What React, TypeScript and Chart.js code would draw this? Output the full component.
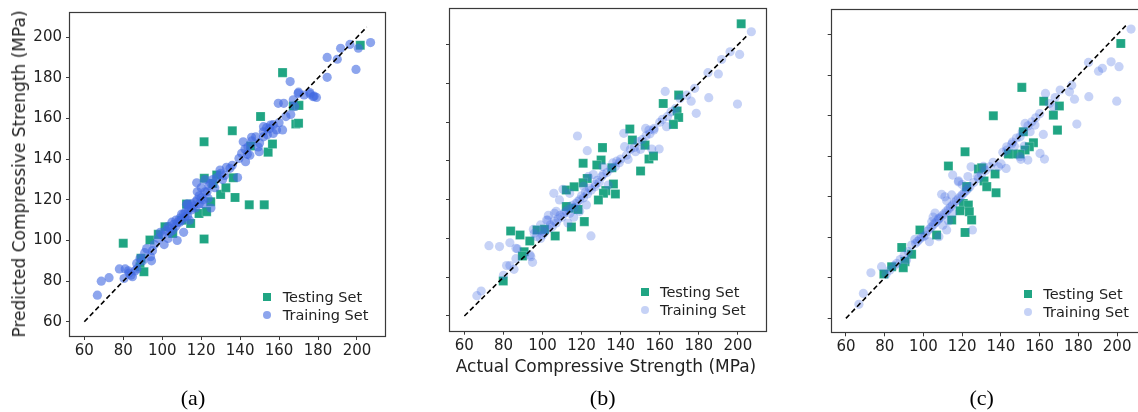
import React, { useEffect, useRef } from 'react';
import { Chart, registerables } from 'chart.js';

Chart.register(...registerables);

// ---------- data ----------
const tickValues = [60, 80, 100, 120, 140, 160, 180, 200];
const diagonalRange = [60, 205];
const legendLabels = ['Testing Set', 'Training Set'];
const captions = ['(a)', '(b)', '(c)'];
const yTitle = 'Predicted Compressive Strength (MPa)';
const xTitle = 'Actual Compressive Strength (MPa)';

// [actual, predicted]
const trainA: number[][] = [
  [66.7, 73.1], [68.7, 80], [72.7, 81.7], [78, 86], [81, 86], [80.4, 81.3], [82.6, 85.1], [84, 83], [84.7, 82.2], [86, 85],
  [86.9, 88.7], [88.6, 91.2], [91, 94], [92, 96], [94, 92], [94.5, 90], [96, 98], [100, 102.7], [101, 98], [103, 101],
  [104, 104], [105.5, 105], [107.7, 100], [107, 107], [109, 109], [110, 113], [111.7, 111.7], [113.4, 115], [112.5, 117.8], [115, 118],
  [117, 119], [117.7, 128.4], [119, 122], [120, 126], [122, 130], [123.6, 120.7], [125, 116], [123, 124], [126, 130], [129.7, 134.7],
  [131, 130], [134.8, 135.5], [138.7, 131], [139.4, 140.4], [140.8, 142.9], [142.5, 145], [142.8, 138.8], [143.7, 142.4], [141.6, 148.6], [145.9, 150.8],
  [149.3, 146], [149.8, 143.7], [151.9, 153.5], [153.6, 155.5], [155.6, 156.8], [157, 152.7], [158.7, 154.4], [160, 158], [161.8, 154.4], [163.5, 161],
  [159.6, 167.5], [162.4, 167.5], [165.7, 178.2], [167.3, 169.2], [169.8, 172.4], [172.8, 171.6], [175.8, 172.8], [177.5, 170.8], [179.2, 170.4], [184.7, 180.3],
  [184.7, 190.1], [189.9, 189.2], [191.6, 194.6], [199.5, 184.2], [196.4, 196.5], [200.7, 194.6], [207, 197.4],
  [102, 105], [103, 107], [104, 106], [105, 109], [106, 108], [107, 110], [108, 109], [109, 111], [110, 110], [111, 113],
  [112, 114], [113, 112], [114, 116], [115, 115], [116, 117], [117, 116], [118, 120], [119, 118], [120, 121], [121, 120],
  [122, 124], [124, 127], [125, 128], [127, 126], [128, 131], [130, 133], [132, 132], [133, 136], [136, 137], [98, 101],
  [99, 104], [95, 95], [90, 90], [87, 86], [83, 84], [111, 104], [113, 118], [118, 124], [121, 118], [114, 110],
  [144, 146], [146, 149], [148, 151], [150, 148], [152, 151], [154, 152], [155, 155], [157, 157], [152, 156], [145, 142],
  [168, 166], [170, 173], [166, 162], [176, 172], [178, 171],
];
const testA: number[][] = [
  [80, 98.6], [88.6, 87.1], [89.1, 91.2], [90.6, 84.6], [93.7, 100.2], [98, 103], [101.4, 106.8], [105.4, 103.5], [112.5, 117.9], [114.6, 108.4],
  [118.9, 113.3], [121.5, 100.7], [121.5, 148.6], [121.6, 130.6], [122.8, 114.2], [124.9, 119.1], [128, 132.2], [130, 122.7], [132.7, 126], [136.5, 130.9],
  [137.4, 121.2], [136, 154], [144.7, 117.6], [145.4, 146.5], [152.4, 117.6], [150.5, 161], [154.4, 143.5], [156.6, 147.5], [161.8, 182.6], [167.3, 166.2],
  [170.2, 166.5], [168.6, 157.3], [170, 157.7], [201.7, 196.1], [110, 110], [126, 128],
];

const trainB: number[][] = [
  [66.4, 70.5], [68.6, 72.9], [72.6, 96.3], [78, 95.8], [83.3, 97.8], [81.6, 86], [83.3, 86], [85.4, 84.1], [86.4, 89.6], [87.1, 94.7],
  [94, 90.6], [94.9, 87.7], [95.3, 104.7], [95.8, 102.7], [100, 101.8], [102.7, 109.5], [105.8, 123.3], [106.1, 113], [108.7, 119.9], [110.5, 125.4],
  [113.9, 123.3], [117.9, 152.9], [122.9, 145.3], [124.8, 101.3], [123.4, 131.9], [126.9, 126.7], [130.3, 131.9], [137.3, 137.1], [139.3, 139.1], [141.6, 154.3],
  [142, 147.4], [143.8, 140.8], [147.6, 144.8], [150.2, 146], [152.8, 156.8], [154.5, 156], [157.1, 156.8], [155.9, 146.2], [159.7, 146.2], [161.4, 161.5],
  [163.5, 157.7], [162.8, 175.9], [165.8, 165.4], [170.4, 172.3], [173.9, 174], [176.1, 170.9], [177.9, 177.5], [178.7, 164.6], [185.1, 172.7], [184.7, 185.6],
  [190, 184.9], [191.7, 192.4], [196, 196.4], [199.8, 169.4], [200.9, 195], [206.9, 206.7],
  [97, 101], [99, 100], [100, 104], [101, 103], [103, 105], [104, 107], [105, 106], [106, 109], [107, 108], [108, 110],
  [109, 112], [110, 111], [111, 113], [112, 114], [113, 115], [114, 113], [115, 117], [116, 116], [117, 118], [118, 119],
  [119, 120], [120, 122], [121, 121], [122, 124], [123, 123], [124, 126], [125, 125], [127, 128], [128, 130], [129, 129],
  [131, 133], [133, 134], [135, 136], [138, 140], [140, 141], [143, 143], [145, 146], [147, 147], [149, 150], [151, 151],
  [153, 153], [155, 154], [157, 156], [160, 160], [164, 163], [168, 167], [103, 112], [107, 114], [99, 107], [113, 108],
  [116, 111], [119, 114], [121, 127], [126, 133], [131, 137], [136, 139], [102.1, 109.5], [122.5, 117.3], [133.6, 127.6], [80, 81],
  [86.4, 94.9], [93.6, 91.5],
];
const testB: number[][] = [
  [201.7, 210.8], [169.7, 174], [161.8, 169.7], [168.9, 165.8], [169.7, 162.5], [167, 158.9], [144.7, 156.5], [146, 150.8], [152.5, 148.2], [150.2, 134.8],
  [154.5, 141], [156.8, 142.6], [130.7, 146.9], [130, 140.5], [127.8, 137.9], [120.8, 138.8], [135.5, 136.5], [122.9, 131], [120.8, 128.8], [136.3, 128.1],
  [137.3, 123], [132.4, 124.7], [131.2, 123.3], [128.6, 119.9], [112.2, 125], [116.2, 126.7], [114.8, 115.6], [118.2, 115], [112.2, 116.5], [121.4, 108.7],
  [114.8, 105.9], [97.2, 104.4], [101, 104.7], [106.5, 101.3], [93.5, 98.7], [88.5, 101.8], [83.7, 103.9], [90.6, 93.2], [89.7, 91], [79.9, 78.1],
];

const trainC: number[][] = [
  [66.7, 66.9], [69, 72.3], [72.9, 82.5], [78.4, 85.5], [80.7, 81.7], [82.7, 83.8], [86.2, 87.1], [91.3, 88.8], [92.2, 92.9], [93.9, 96.2],
  [95.6, 99], [100, 100.3], [103.1, 97.8], [104.3, 107.7], [108, 100.3], [109.4, 121.2], [111.1, 120], [112, 103.6], [115.1, 130.7], [114.6, 120.9],
  [118, 127.4], [124.6, 134.8], [125.3, 103.6], [128.4, 129.1], [134.4, 134.8], [138.7, 134.8], [140.1, 136.2], [142.7, 134], [143, 144.7], [145.6, 146],
  [149.9, 139.8], [150.3, 138.5], [153.9, 138.1], [149.9, 149.6], [152.5, 156.2], [155.1, 152.1], [157.6, 155.4], [160.2, 141.4], [161.9, 150.8], [162.5, 138.6],
  [163, 171], [167.1, 164.4], [170.6, 172.7], [175.4, 171.8], [176.6, 175.1], [178, 168.2], [179.2, 155.9], [185.4, 169.4], [185.2, 186.3], [190.4, 182],
  [192.4, 183.4], [196.9, 186.6], [201, 184.2], [199.8, 167.2], [207.2, 202.8],
  [85, 86], [88, 89], [90, 91], [96, 97], [97, 98], [98, 99], [99, 100], [101, 101], [102, 103], [103, 104],
  [104, 105], [105, 106], [106, 107], [107, 108], [108, 109], [109, 110], [110, 111], [111, 112], [112, 113], [113, 114],
  [114, 115], [115, 116], [116, 117], [117, 118], [118, 119], [119, 120], [120, 121], [121, 122], [122, 123], [123, 124],
  [124, 125], [126, 127], [128, 130], [130, 131], [132, 133], [136, 137], [141, 142], [143, 143], [146, 147], [148, 149],
  [151, 152], [154, 155], [156, 157], [158, 159], [160, 161], [165, 166], [168, 169], [107.9, 109.4], [118.2, 127.8], [112, 118],
  [106, 112], [110, 106], [105, 110], [120, 126], [123, 130], [113, 108], [115, 112], [131, 135], [147, 145], [152, 145],
];
const testC: number[][] = [
  [201.9, 195.7], [150.8, 174], [136.1, 160], [162.1, 167.2], [167.1, 160.3], [170.2, 164.8], [169.2, 152.9], [156.8, 146.7], [154.7, 144.7], [152.5, 143.1],
  [149.9, 141.1], [146.4, 141.1], [143.9, 141.1], [151.6, 152.1], [121.5, 142.2], [112.9, 135.2], [128.4, 133.7], [130.1, 134.3], [137, 131.2], [131.3, 127.8],
  [132.7, 125], [137.5, 122], [122.3, 125], [120.6, 116.7], [123.2, 115.9], [118.9, 113.1], [123.7, 112.6], [124.9, 108.5], [114.6, 108.5], [121.5, 102.4],
  [98.2, 103.6], [106.8, 101.1], [88.8, 95], [93.9, 91.6], [90.5, 88], [89.6, 85], [83.6, 85.5], [79.6, 81.9],
];

// ---------- styles ----------
const TEST_COLOR = 'rgb(32,165,131)';
const TRAIN_COLOR_STRONG = 'rgba(65,105,225,0.6)';
const TRAIN_COLOR_LIGHT = 'rgba(65,105,225,0.3)';
const AXIS_COLOR = '#3a3a3a';
const TEXT_COLOR = '#222';
const SANS = '"DejaVu Sans", sans-serif';
const SERIF = '"Liberation Serif", "Times New Roman", serif';
const H = 412;
const Y_AXIS_W = 70;
const RIGHT_PAD = 30;
const TICK_FONT = 15;
const TITLE_FONT = 17;
const LEGEND_FONT = 14.5;

type PanelDef = {
  train: number[][];
  test: number[][];
  trainColor: string;
  xRange: number[];
  yRange: number[];
  box: number[]; // left, top, right, bottom of plot area (page px)
  yLabels: boolean;
  legend: number[]; // markerX, y1, y2, textX
  caption: string;
  captionX: number;
};

const PANELS: PanelDef[] = [
  {
    train: trainA, test: testA, trainColor: TRAIN_COLOR_STRONG,
    xRange: [52.65, 214.4], yRange: [53, 212.2], box: [70, 12.5, 385, 336], yLabels: true,
    legend: [266.7, 297.2, 314.7, 282.7], caption: captions[0], captionX: 193,
  },
  {
    train: trainB, test: testB, trainColor: TRAIN_COLOR_LIGHT,
    xRange: [52.65, 214.4], yRange: [52.4, 218.3], box: [450, 9.3, 766, 330.7], yLabels: false,
    legend: [645, 292.3, 310, 660], caption: captions[1], captionX: 602.7,
  },
  {
    train: trainC, test: testC, trainColor: TRAIN_COLOR_LIGHT,
    xRange: [52.65, 214.4], yRange: [53.1, 212.2], box: [831.7, 10, 1145, 332.3], yLabels: false,
    legend: [1027.7, 294.3, 312, 1043.3], caption: captions[2], captionX: 981.7,
  },
];

const framePlugin = {
  id: 'frame',
  afterDraw(chart: any) {
    const { ctx, chartArea: a } = chart;
    ctx.save();
    ctx.strokeStyle = AXIS_COLOR;
    ctx.lineWidth = 1.2;
    const l = Math.round(a.left) - 0.5;
    const t = Math.round(a.top) - 0.5;
    const r = Math.round(a.right) + 0.5;
    const b = Math.round(a.bottom) + 0.5;
    ctx.strokeRect(l, t, r - l, b - t);
    ctx.restore();
  },
};

function PanelChart({ p }: { p: PanelDef }) {
  const ref = useRef<HTMLCanvasElement | null>(null);
  const [left, top, right, bottom] = p.box;
  const canvasLeft = Math.floor(left - Y_AXIS_W);
  const yAxisW = left - canvasLeft;
  const width = Math.round(right - canvasLeft + RIGHT_PAD);

  useEffect(() => {
    if (!ref.current) return;
    const toPts = (arr: number[][]) => arr.map(([x, y]) => ({ x, y }));
    const ticksCb = (scale: any) => {
      scale.ticks = tickValues.map((v) => ({ value: v }));
    };
    const zeroPad = (scale: any) => {
      scale.paddingTop = 0;
      scale.paddingBottom = 0;
      scale.paddingLeft = 0;
      scale.paddingRight = 0;
    };
    const chart = new Chart(ref.current, {
      type: 'scatter',
      data: {
        datasets: [
          {
            type: 'line',
            label: 'diag',
            data: diagonalRange.map((v) => ({ x: v, y: v })),
            borderColor: '#000',
            borderWidth: 1.6,
            borderDash: [5, 3],
            pointRadius: 0,
            fill: false,
            order: 0,
          } as any,
          {
            label: legendLabels[1],
            data: toPts(p.train),
            backgroundColor: p.trainColor,
            borderWidth: 0,
            pointRadius: 4.6,
            pointStyle: 'circle',
            order: 1,
          },
          {
            label: legendLabels[0],
            data: toPts(p.test),
            backgroundColor: TEST_COLOR,
            borderColor: 'rgba(255,255,255,0.35)',
            borderWidth: 0.6,
            pointRadius: 6.4,
            pointStyle: 'rect',
            order: 2,
          },
        ],
      },
      options: {
        responsive: false,
        animation: false,
        events: [],
        layout: { padding: { top, right: RIGHT_PAD, bottom: 0, left: 0 } },
        plugins: { legend: { display: false }, tooltip: { enabled: false }, title: { display: false } },
        scales: {
          x: {
            type: 'linear',
            min: p.xRange[0],
            max: p.xRange[1],
            afterBuildTicks: ticksCb,
            afterFit: (s: any) => {
              s.height = H - bottom;
              zeroPad(s);
            },
            border: { display: false },
            grid: {
              display: true,
              drawOnChartArea: false,
              drawTicks: true,
              tickLength: 4,
              tickColor: AXIS_COLOR,
              tickWidth: 1,
            },
            ticks: {
              font: { family: SANS, size: TICK_FONT },
              color: TEXT_COLOR,
              padding: 2,
              maxRotation: 0,
              autoSkip: false,
            },
          },
          y: {
            type: 'linear',
            min: p.yRange[0],
            max: p.yRange[1],
            afterBuildTicks: ticksCb,
            afterFit: (s: any) => {
              s.width = yAxisW;
              zeroPad(s);
            },
            border: { display: false },
            grid: {
              display: true,
              drawOnChartArea: false,
              drawTicks: true,
              tickLength: 4,
              tickColor: AXIS_COLOR,
              tickWidth: 1,
            },
            ticks: {
              display: p.yLabels,
              font: { family: SANS, size: TICK_FONT },
              color: TEXT_COLOR,
              padding: 4,
              autoSkip: false,
            },
          },
        },
      },
      plugins: [framePlugin],
    });
    return () => chart.destroy();
  }, []);

  const [mx, ly1, ly2, tx] = p.legend;
  const textStyle: React.CSSProperties = {
    position: 'absolute',
    left: tx,
    height: 16,
    lineHeight: '16px',
    fontFamily: SANS,
    fontSize: LEGEND_FONT,
    color: TEXT_COLOR,
    whiteSpace: 'nowrap',
  };
  return (
    <>
      <canvas
        ref={ref}
        width={width}
        height={H}
        style={{ position: 'absolute', left: canvasLeft, top: 0, width, height: H }}
      />
      <div
        style={{
          position: 'absolute', left: mx - 4, top: ly1 - 4, width: 8, height: 8, background: TEST_COLOR,
        }}
      />
      <div style={{ ...textStyle, top: ly1 - 8 }}>{legendLabels[0]}</div>
      <div
        style={{
          position: 'absolute', left: mx - 4, top: ly2 - 4, width: 8, height: 8, borderRadius: '50%',
          background: p.trainColor,
        }}
      />
      <div style={{ ...textStyle, top: ly2 - 8 }}>{legendLabels[1]}</div>
      <div
        style={{
          position: 'absolute', left: p.captionX, top: 398, transform: 'translate(-50%, -50%)',
          fontFamily: SERIF, fontSize: 22, color: '#000', whiteSpace: 'nowrap', lineHeight: '26px',
        }}
      >
        {p.caption}
      </div>
    </>
  );
}

export default function App() {
  return (
    <div
      style={{
        position: 'fixed', left: 0, top: 0, width: 1138, height: H, overflow: 'hidden', background: '#fff',
      }}
    >
      {PANELS.map((p, i) => (
        <PanelChart key={i} p={p} />
      ))}
      <div
        style={{
          position: 'absolute', left: 19, top: 174, transform: 'translate(-50%, -50%) rotate(-90deg)',
          fontFamily: SANS, fontSize: TITLE_FONT, color: TEXT_COLOR, whiteSpace: 'nowrap', lineHeight: '20px',
        }}
      >
        {yTitle}
      </div>
      <div
        style={{
          position: 'absolute', left: 606, top: 366, transform: 'translate(-50%, -50%)',
          fontFamily: SANS, fontSize: TITLE_FONT, color: TEXT_COLOR, whiteSpace: 'nowrap', lineHeight: '20px',
        }}
      >
        {xTitle}
      </div>
    </div>
  );
}
